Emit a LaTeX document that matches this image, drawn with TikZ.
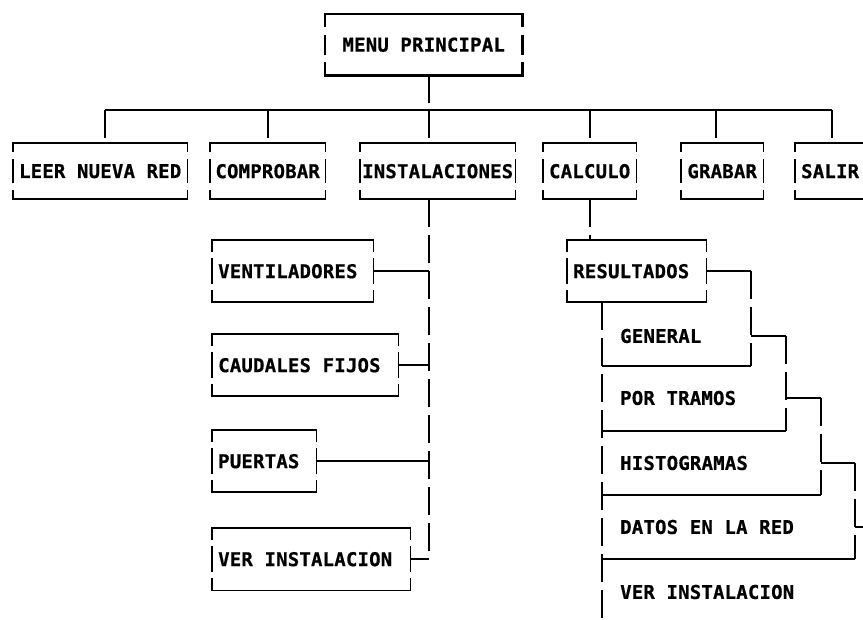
\documentclass[tikz,border=0pt]{standalone}
\usepackage{fontspec}
\newfontfamily\plotfont{DejaVu Sans Mono Bold}[LetterSpace=1, FakeBold=0.6]
\tikzset{
  ln/.style={line width=1.8pt, line cap=butt, line join=miter},
  thk/.style={line width=2.8pt, line cap=butt, line join=miter},
  dsh/.style={ln, dash pattern=on 28pt off 8pt},
  txt/.style={font=\plotfont\fontsize{19pt}{22pt}\selectfont},
  topbox/.style={txt, inner sep=0pt, minimum height=56pt, anchor=north west},
  subbox/.style={txt, inner xsep=6pt, inner ysep=0pt, minimum height=62pt, anchor=north west},
  lbl/.style={txt, inner sep=0pt, anchor=west},
}
\newcommand\lefttext[2]{\makebox[#1][l]{#2}}
\newcommand\brackbox[4]{%
  \draw[#4] ([yshift=-#2]#1.north west) -- (#1.north west) -- (#1.north east) -- ([yshift=-#2]#1.north east);
  \draw[#4] ([yshift=#2]#1.south west) -- (#1.south west) -- (#1.south east) -- ([yshift=#2]#1.south east);
  \draw[#4] ([yshift=-#3]#1.west) -- ([yshift=#3]#1.west);
  \draw[#4] ([yshift=-#3]#1.east) -- ([yshift=#3]#1.east);
}
\begin{document}
\begin{tikzpicture}[x=1pt,y=-1pt]
\useasboundingbox (0,0) rectangle (863,620);
\begin{scope}
\clip (0,0) rectangle (863,620);
% main menu
\node[txt, inner sep=0pt, minimum width=197pt, minimum height=61pt, anchor=north west] (menu) at (325,14) {MENU PRINCIPAL};
\brackbox{menu}{13pt}{10pt}{thk}
% level 1
\node[topbox, minimum width=174pt] (leer) at (13,143) {LEER NUEVA RED};
\node[topbox, minimum width=115pt] (comp) at (210,143) {COMPROBAR};
\node[topbox, minimum width=155pt] (inst) at (360,143) {INSTALACIONES};
\node[topbox, minimum width=93pt] (calc) at (543,143) {CALCULO};
\node[topbox, minimum width=82pt] (grab) at (681,143) {GRABAR};
\node[subbox, minimum height=56pt] (salir) at (795,143) {\lefttext{98pt}{SALIR}};
\foreach \b in {leer,comp,inst,calc,grab,salir}{\brackbox{\b}{9pt}{12pt}{ln}}
% bus
\coordinate (s1) at (105,110);
\coordinate (s2) at (268,110);
\coordinate (s3) at (429,110);
\coordinate (s4) at (590,110);
\coordinate (s5) at (716,110);
\coordinate (s6) at (832,110);
\draw[dsh] (s3 |- menu.south) -- (s3);
\draw[ln] (s1) -- (s6);
\draw[dsh] (s1) -- (s1 |- leer.north);
\draw[dsh] (s2) -- (s2 |- comp.north);
\draw[dsh] (s3) -- (s3 |- inst.north);
\draw[dsh] (s4) -- (s4 |- calc.north);
\draw[dsh] (s5) -- (s5 |- grab.north);
\draw[dsh] (s6) -- (s6 |- salir.north);
% installations column
\node[subbox] (vent) at (212,240) {\lefttext{149pt}{VENTILADORES}};
\node[subbox] (caud) at (212,334) {\lefttext{174pt}{CAUDALES FIJOS}};
\node[subbox] (puer) at (212,430) {\lefttext{92pt}{PUERTAS}};
\node[subbox] (verl) at (212,528) {\lefttext{186pt}{VER INSTALACION}};
\foreach \b in {vent,caud,puer,verl}{\brackbox{\b}{12pt}{13pt}{ln}}
\draw[dsh] (s3 |- inst.south) -- (s3 |- verl.east);
\draw[ln] (s3 |- verl.east) -- (verl.east);
\draw[ln] (vent.east) -- (vent.east -| s3);
\draw[ln] (caud.east) -- (caud.east -| s3);
\draw[ln] (puer.east) -- (puer.east -| s3);
% results column
\node[subbox] (res) at (567,240) {\lefttext{127pt}{RESULTADOS}};
\brackbox{res}{12pt}{13pt}{ln}
\draw[dsh] (s4 |- calc.south) -- (s4 |- res.north);
\coordinate (Lx) at (602,625);
\draw[dsh] (Lx |- res.south) -- (Lx);
\node[lbl] (gen) at (620,336) {GENERAL};
\node[lbl] (tra) at (620,398) {POR TRAMOS};
\node[lbl] (his) at (620,463) {HISTOGRAMAS};
\node[lbl] (dat) at (620,527) {DATOS EN LA RED};
\node[lbl] (ver) at (620,592) {VER INSTALACION};
\coordinate (c1) at (751,366);
\coordinate (c2) at (786,431);
\coordinate (c3) at (821,495);
\coordinate (c4) at (855,559);
\draw[ln] (res.east) -- (res.east -| c1);
\draw[dsh] (res.east -| c1) -- (c1);
\draw[ln] (c1) -- (c1 -| Lx);
\draw[ln] (c1 |- gen.west) -- (c2 |- gen.west);
\draw[dsh] (c2 |- gen.west) -- (c2);
\draw[ln] (c2) -- (c2 -| Lx);
\draw[ln] (c2 |- tra.west) -- (c3 |- tra.west);
\draw[dsh] (c3 |- tra.west) -- (c3);
\draw[ln] (c3) -- (c3 -| Lx);
\draw[ln] (c3 |- his.west) -- (c4 |- his.west);
\draw[dsh] (c4 |- his.west) -- (c4);
\draw[ln] (c4) -- (c4 -| Lx);
\draw[ln] (c4 |- dat.west) -- ++(30,0);
\end{scope}
\end{tikzpicture}
\end{document}
